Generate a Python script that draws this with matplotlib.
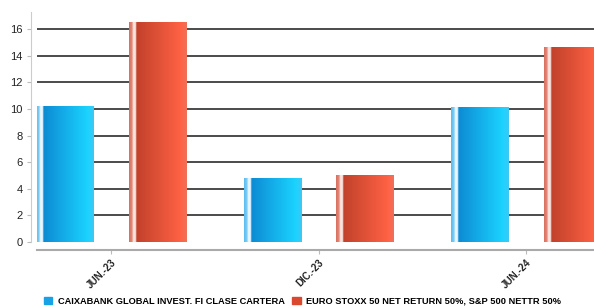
import numpy as np
import matplotlib.pyplot as plt
from matplotlib.colors import LinearSegmentedColormap
from matplotlib.patches import Patch

periods = ['JUN.-23', 'DIC.-23', 'JUN.-24']
fund = [10.2, 4.8, 10.1]
bench = [16.5, 5.0, 14.6]
labels = ['CAIXABANK GLOBAL INVEST. FI CLASE CARTERA',
          'EURO STOXX 50 NET RETURN 50%, S&P 500 NETTR 50%']

plt.rcParams['font.family'] = ['Liberation Sans', 'DejaVu Sans']

blue_cm = LinearSegmentedColormap.from_list('b', [
    (0.0, '#5BBDF0'), (0.05, '#7FCDF5'), (0.07, '#EAF7FF'), (0.11, '#EAF7FF'),
    (0.13, '#0D8BD4'), (0.9, '#1BD3FF'), (1.0, '#3FC8F5')])
red_cm = LinearSegmentedColormap.from_list('r', [
    (0.0, '#D8705E'), (0.05, '#E28A7A'), (0.07, '#F8E4DE'), (0.11, '#F8E4DE'),
    (0.13, '#C2412B'), (0.9, '#FF6244'), (1.0, '#F0705A')])

fig = plt.figure(figsize=(5.94, 3.08), dpi=100)
ax = fig.add_axes([37 / 594, 1 - 242 / 308, 1 - 37 / 594, 230 / 308])

x = np.arange(len(periods))
w = 0.275
off = 0.224
b1 = ax.bar(x - off, fund, w, color='#1AA8E8', zorder=2)
b2 = ax.bar(x + off, bench, w, color='#E0553A', zorder=2)

grad = np.linspace(0, 1, 200).reshape(1, -1)
for bars, cm in ((b1, blue_cm), (b2, red_cm)):
    for p in bars:
        x0, h, bw = p.get_x(), p.get_height(), p.get_width()
        ax.imshow(grad, cmap=cm, extent=[x0, x0 + bw, 0, h], aspect='auto',
                  zorder=3, interpolation='bilinear')

ax.set_xlim(-0.357, 2.328)
ax.set_ylim(0, 17.3)
for v in range(2, 17, 2):
    ax.axhline(v, color='#1a1a1a', lw=1.1, zorder=1)

# spines first: set_position resets the ticks
for s in ('top', 'right'):
    ax.spines[s].set_visible(False)
ax.spines['left'].set_position(('outward', 4))
ax.spines['bottom'].set_position(('outward', 6))
ax.spines['left'].set_color('#cccccc')
ax.spines['bottom'].set_color('#aaaaaa')
ax.spines['bottom'].set_linewidth(1.5)

ax.set_yticks(range(0, 17, 2))
ax.tick_params(axis='y', labelsize=8, colors='#222222', length=3, color='#bbbbbb')
ax.tick_params(axis='x', length=3, color='#bbbbbb', pad=2)
ax.set_xticks(x)
ax.set_xticklabels(periods, rotation=45, ha='right', rotation_mode='anchor',
                   fontsize=7, fontweight='bold', color='#222222')

handles = [Patch(color='#1AA0E4'), Patch(color='#D9482F')]
fig.legend(handles, labels, loc='lower left', bbox_to_anchor=(0.06, -0.02),
           ncol=2, frameon=False, handlelength=0.9,
           handleheight=0.9, handletextpad=0.6, columnspacing=0.8,
           prop={'weight': 'bold', 'size': 6.7})

fig.savefig('out.png', dpi=100)
